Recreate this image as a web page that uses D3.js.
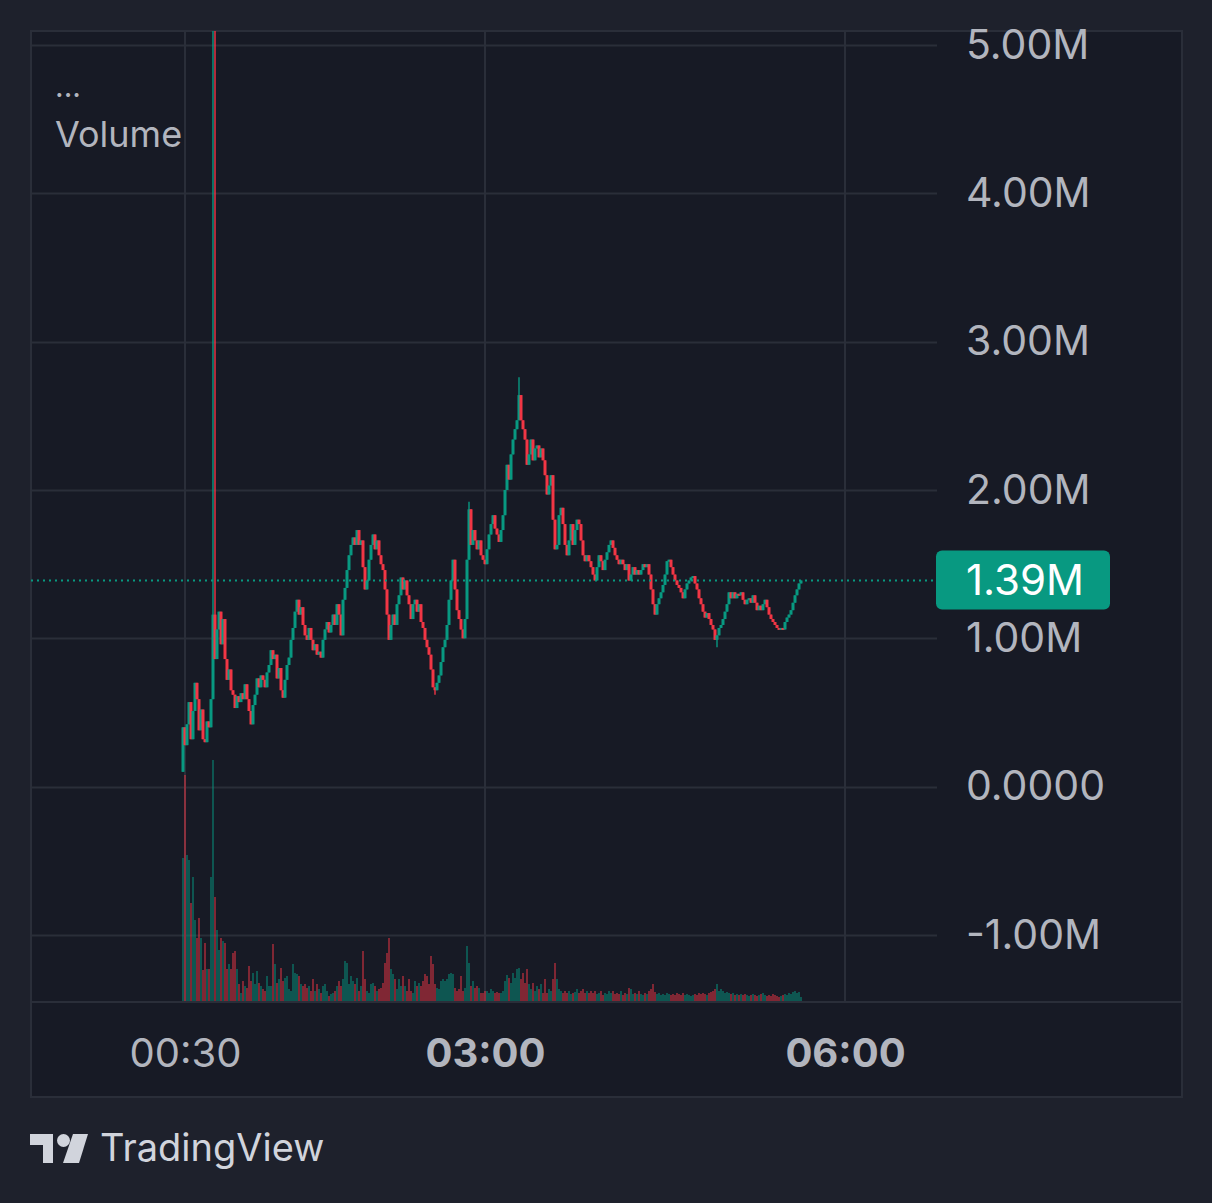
<!DOCTYPE html>
<html><head><meta charset="utf-8">
<script src="https://cdn.jsdelivr.net/npm/d3@7"></script>
<style>html,body{margin:0;padding:0;background:#1e212c;} svg{display:block}</style>
</head><body><svg id="c" width="1212" height="1203"></svg>
<script>
// ---- data (price in millions, volume in relative units) ----
const startMinute = 29;      // first 1-minute bar at 00:29
const firstOpen = 0.10;
const closes = [
0.40,0.28,0.42,0.57,0.32,0.51,0.70,0.59,0.38,0.52,
0.32,0.30,0.44,0.40,0.59,1.16,0.86,1.06,1.18,0.96,
1.13,0.86,0.72,0.79,0.65,0.62,0.53,0.61,0.57,0.63,
0.59,0.69,0.59,0.51,0.42,0.55,0.62,0.73,0.67,0.75,
0.72,0.67,0.77,0.82,0.92,0.86,0.89,0.73,0.80,0.65,
0.60,0.72,0.82,0.87,0.99,1.07,1.18,1.26,1.16,1.21,
1.09,1.02,0.99,1.07,0.99,0.92,0.96,0.89,0.91,0.87,
0.99,1.06,1.11,1.04,1.09,1.16,1.09,1.23,1.16,1.02,
1.26,1.34,1.46,1.56,1.63,1.68,1.63,1.73,1.63,1.66,
1.48,1.33,1.39,1.53,1.63,1.70,1.60,1.66,1.56,1.50,
1.46,1.33,1.16,0.99,1.09,1.16,1.09,1.23,1.29,1.41,
1.33,1.39,1.29,1.23,1.13,1.23,1.26,1.18,1.23,1.11,
1.07,0.99,0.94,0.89,0.79,0.67,0.65,0.70,0.75,0.84,
0.94,0.99,1.09,1.26,1.39,1.53,1.33,1.19,1.13,1.06,
1.00,1.13,1.53,1.87,1.63,1.73,1.66,1.60,1.66,1.56,
1.53,1.50,1.60,1.70,1.77,1.83,1.74,1.70,1.65,1.73,
1.83,2.00,2.17,2.07,2.24,2.34,2.41,2.47,2.64,2.47,
2.41,2.34,2.17,2.24,2.34,2.20,2.28,2.30,2.22,2.28,
2.20,2.10,1.97,2.03,2.10,1.80,1.60,1.63,1.83,1.88,
1.77,1.63,1.56,1.66,1.77,1.63,1.73,1.80,1.77,1.66,
1.56,1.52,1.56,1.52,1.48,1.43,1.39,1.48,1.56,1.52,
1.46,1.53,1.58,1.63,1.66,1.61,1.56,1.53,1.50,1.53,
1.50,1.46,1.50,1.39,1.43,1.48,1.43,1.46,1.43,1.46,
1.50,1.48,1.50,1.43,1.33,1.23,1.16,1.23,1.27,1.31,
1.36,1.43,1.52,1.53,1.48,1.43,1.39,1.36,1.34,1.31,
1.27,1.33,1.37,1.39,1.41,1.42,1.37,1.33,1.27,1.23,
1.18,1.14,1.17,1.13,1.09,1.06,0.99,1.02,1.07,1.09,
1.13,1.18,1.23,1.31,1.27,1.31,1.27,1.30,1.29,1.31,
1.26,1.23,1.26,1.27,1.24,1.29,1.24,1.19,1.22,1.19,
1.23,1.26,1.21,1.16,1.13,1.11,1.09,1.07,1.06,1.07,
1.06,1.11,1.14,1.16,1.19,1.24,1.29,1.33,1.37,1.39
];
const volumes = [
143,226,146,141,98,124,81,63,83,63,
31,58,32,32,124,241,104,71,51,63,
60,58,32,37,32,48,50,32,17,8,
20,15,13,35,20,28,17,30,18,15,
12,10,25,15,15,57,37,18,22,33,
20,23,25,12,10,37,28,27,25,17,
15,17,13,15,10,22,10,17,12,8,
15,17,10,5,7,8,10,15,20,15,
22,40,38,17,25,20,17,23,10,15,
50,22,10,8,17,18,15,10,12,13,
18,38,48,63,32,27,22,12,22,15,
25,15,10,22,10,8,20,15,18,15,
20,27,25,17,45,37,17,13,12,20,
22,20,22,27,28,27,13,10,12,25,
10,13,55,38,15,20,13,15,13,8,
8,10,10,8,12,10,8,9,8,8,
10,20,26,23,18,28,23,32,33,22,
28,18,32,17,12,18,10,15,12,17,
8,22,8,12,10,22,38,22,12,10,
8,10,8,10,7,8,9,12,8,10,
12,8,10,8,10,8,10,7,8,10,
6,8,7,10,8,10,7,8,7,10,
6,8,7,13,12,7,8,7,10,7,
6,8,7,10,12,17,9,7,8,6,
7,6,8,7,6,7,6,8,7,6,
8,6,7,6,5,6,7,6,8,7,
8,7,6,8,9,10,12,17,10,12,
10,8,9,8,7,8,6,7,6,7,
6,7,6,5,6,7,6,5,6,7,
8,6,5,6,5,7,6,5,4,5,
6,7,6,8,7,9,10,8,9,4
];
const spikeIndex = [15, 16, 143, 168];
const spikeHigh  = [5.5, 5.5, 1.92, 2.76];
const dipIndex   = [0, 126, 267];
const dipLow     = [0.10, 0.62, 0.94];
const priceTicks = [5, 4, 3, 2, 1, 0, -1];
const priceTickLabels = ["5.00M","4.00M","3.00M","2.00M","1.00M","0.0000","-1.00M"];
const timeTicks = [30, 180, 360];
const timeTickLabels = ["00:30","03:00","06:00"];
const timeTickBold = [false, true, true];
const lastPrice = 1.39;
const lastPriceLabel = "1.39M";
const legendLabel = "Volume";
const brandLabel = "TradingView";

// ---- layout ----
const W = 1212, H = 1203;
const L = 31, T = 31, R = 937, B = 1001, FR = 1182, FB = 1097;
const GREEN = "#089981", RED = "#f23645";
const TXT = "#b2b5be", GRID = "#2a2e39";
const FONT = "Inter, 'Noto Sans', 'DejaVu Sans', sans-serif";

const svg = d3.select("#c");
const x = d3.scaleLinear().domain([-47, 406]).range([L, R]);
const y = d3.scaleLinear().domain([-1, 5]).range([935, 45]);
const v = d3.scaleLinear().domain([0, 250]).range([B, B - 250]);

const bars = closes.map((c, i) => {
  const o = i === 0 ? firstOpen : closes[i - 1];
  let hi = Math.max(o, c), lo = Math.min(o, c);
  const si = spikeIndex.indexOf(i); if (si >= 0) hi = spikeHigh[si];
  const di = dipIndex.indexOf(i); if (di >= 0) lo = dipLow[di];
  return {t: startMinute + i, o, c, hi, lo, vol: volumes[i], up: c >= o};
});

// backgrounds
svg.append("rect").attr("width", W).attr("height", H).attr("fill", "#1e212c");
svg.append("rect").attr("x", L).attr("y", T).attr("width", FR - L).attr("height", FB - T)
  .attr("fill", "#171a25").attr("stroke", GRID).attr("stroke-width", 2);

// grid
svg.append("g").selectAll("line").data(priceTicks).join("line")
  .attr("x1", L).attr("x2", R).attr("y1", d => Math.round(y(d)) + 0.5).attr("y2", d => Math.round(y(d)) + 0.5)
  .attr("stroke", GRID).attr("stroke-width", 2);
svg.append("g").selectAll("line").data(timeTicks).join("line")
  .attr("x1", d => x(d)).attr("x2", d => x(d)).attr("y1", T).attr("y2", B)
  .attr("stroke", GRID).attr("stroke-width", 2);
svg.append("line").attr("x1", L).attr("x2", FR).attr("y1", B + 1).attr("y2", B + 1)
  .attr("stroke", GRID).attr("stroke-width", 2);

// clip
svg.append("clipPath").attr("id", "plot").append("rect")
  .attr("x", L).attr("y", T).attr("width", R - L).attr("height", B - T);
const plot = svg.append("g").attr("clip-path", "url(#plot)");

// volume
plot.append("g").selectAll("rect").data(bars).join("rect")
  .attr("x", d => x(d.t) - 0.6).attr("width", 1.2)
  .attr("y", d => v(d.vol)).attr("height", d => B - v(d.vol))
  .attr("fill", d => d.up ? GREEN : RED).attr("fill-opacity", 0.8);

// wicks
plot.append("g").selectAll("line").data(bars).join("line")
  .attr("x1", d => x(d.t)).attr("x2", d => x(d.t))
  .attr("y1", d => y(d.hi)).attr("y2", d => y(d.lo))
  .attr("stroke", d => d.up ? GREEN : RED).attr("stroke-width", 1.4);
// bodies
plot.append("g").selectAll("rect").data(bars).join("rect")
  .attr("x", d => x(d.t) - 1.5).attr("width", 3)
  .attr("y", d => y(Math.max(d.o, d.c)))
  .attr("height", d => Math.max(2, Math.abs(y(d.o) - y(d.c))))
  .attr("fill", d => d.up ? GREEN : RED);

// last price line
svg.append("line").attr("x1", L).attr("x2", R)
  .attr("y1", y(lastPrice)).attr("y2", y(lastPrice))
  .attr("stroke", GREEN).attr("stroke-width", 2).attr("stroke-dasharray", "2,4");

// price axis
const pa = svg.append("g").attr("transform", `translate(${R},0)`)
  .call(d3.axisRight(y).tickValues(priceTicks).tickFormat((d, i) => priceTickLabels[i]).tickSize(0).tickPadding(29));
pa.select(".domain").remove();
pa.selectAll("text").attr("fill", TXT).attr("font-size", 41).attr("font-family", FONT);

// last price label
const ly = y(lastPrice);
svg.append("rect").attr("x", 936).attr("y", ly - 30).attr("width", 174).attr("height", 59)
  .attr("rx", 6).attr("fill", GREEN);
svg.append("text").attr("x", 966).attr("y", ly).attr("dy", "0.35em")
  .attr("fill", "#ffffff").attr("font-size", 42).attr("font-family", FONT).text(lastPriceLabel);

// time axis
const ta = svg.append("g").attr("transform", `translate(0,${B})`)
  .call(d3.axisBottom(x).tickValues(timeTicks).tickFormat((d, i) => timeTickLabels[i]).tickSize(0).tickPadding(38));
ta.select(".domain").remove();
ta.selectAll("text").attr("fill", TXT).attr("font-size", 40).attr("font-family", FONT)
  .attr("font-weight", (d, i) => timeTickBold[i] ? 700 : 400);

// legend
svg.append("text").attr("x", 55).attr("y", 97).attr("fill", TXT).attr("font-size", 30)
  .attr("font-family", FONT).text("...");
svg.append("text").attr("x", 55).attr("y", 147).attr("fill", TXT).attr("font-size", 36)
  .attr("font-family", FONT).text(legendLabel);

// brand
const logo = svg.append("g").attr("fill", "#d1d4dc");
logo.append("path").attr("d", "M30,1134 L53,1134 L53,1163 L43,1163 L43,1145 L30,1145 Z");
logo.append("circle").attr("cx", 63.5).attr("cy", 1140.5).attr("r", 6.5);
logo.append("path").attr("d", "M73,1134 L88,1134 L79,1163 L63,1163 Z");
svg.append("text").attr("x", 100).attr("y", 1161).attr("fill", "#d1d4dc").attr("font-size", 38)
  .attr("font-family", FONT).text(brandLabel);
</script>
</body></html>
